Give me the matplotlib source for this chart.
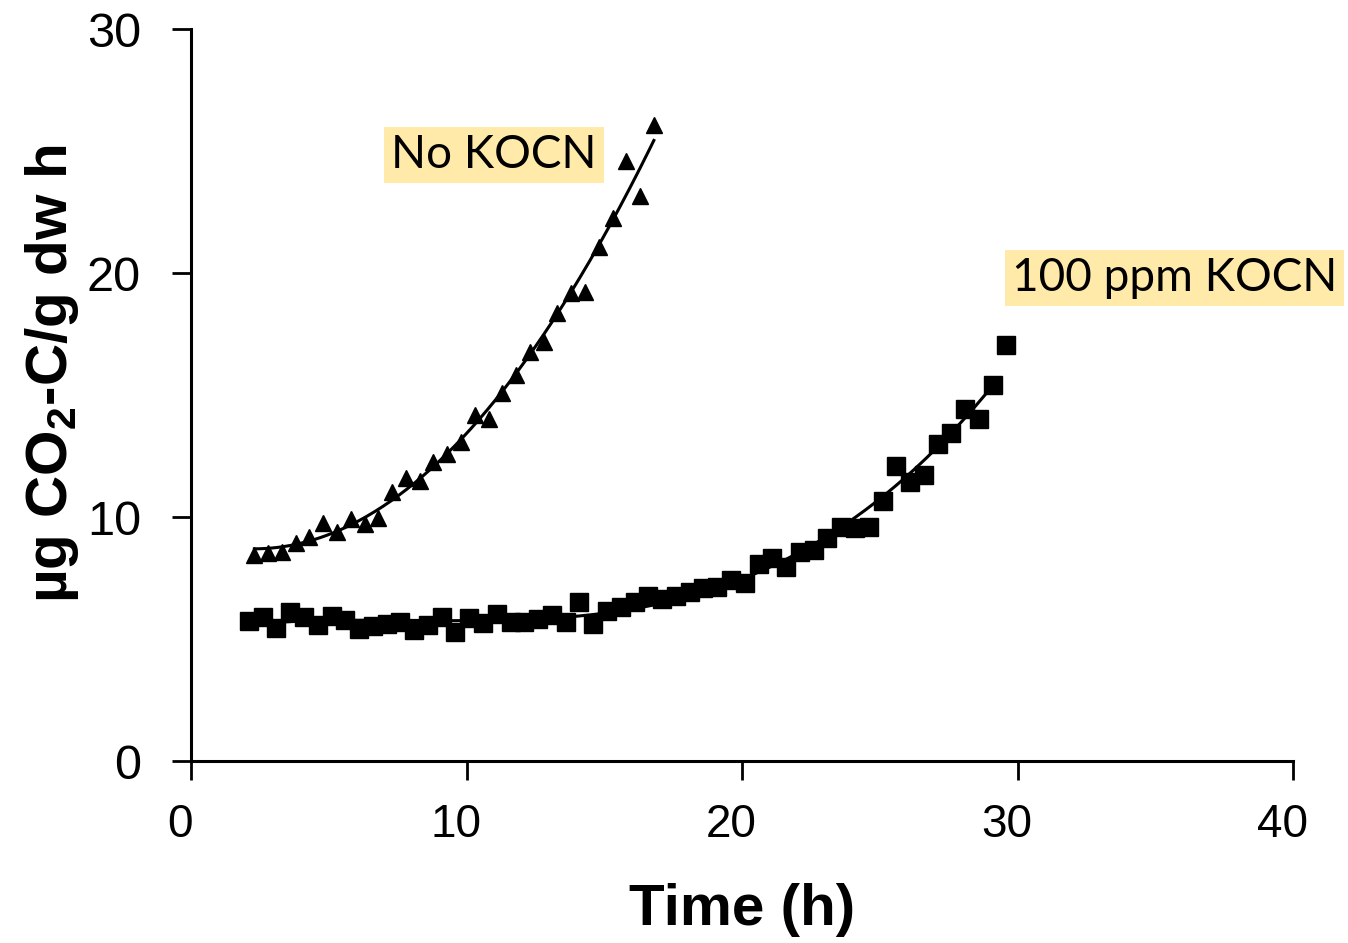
import matplotlib
matplotlib.use("Agg")
import matplotlib.pyplot as plt
import matplotlib.transforms as mtransforms
import numpy as np

plt.rcParams['font.family'] = ['Liberation Sans', 'DejaVu Sans']
plt.rcParams['mathtext.fontset'] = 'custom'
plt.rcParams['mathtext.rm'] = 'Liberation Sans:bold'
plt.rcParams['mathtext.bf'] = 'Liberation Sans:bold'

# time (h) of each reading, half-hour steps
t_no = 2.3 + 0.5 * np.arange(30)
rate_no = np.array([8.44, 8.52, 8.57, 8.93, 9.18, 9.75, 9.39, 9.92, 9.71, 9.96,
                    11.02, 11.6, 11.48, 12.25, 12.58, 13.07, 14.18, 14.02, 15.08, 15.82,
                    16.76, 17.17, 18.36, 19.18, 19.22, 21.07, 22.25, 24.59, 23.16, 26.07])

t_100 = 2.1 + 0.5 * np.arange(56)
rate_100 = np.array([5.74, 5.90, 5.45, 6.11, 5.90, 5.57, 5.94, 5.78, 5.41, 5.53,
                     5.61, 5.70, 5.37, 5.57, 5.90, 5.29, 5.86, 5.66, 6.02, 5.70,
                     5.70, 5.82, 5.98, 5.70, 6.52, 5.61, 6.15, 6.31, 6.52, 6.76,
                     6.64, 6.76, 6.93, 7.09, 7.13, 7.42, 7.30, 8.07, 8.32, 7.95,
                     8.57, 8.65, 9.14, 9.59, 9.55, 9.59, 10.66, 12.09, 11.43, 11.72,
                     12.99, 13.44, 14.43, 14.02, 15.41, 17.05])

fig = plt.figure(figsize=(13.48, 9.43), dpi=100)
ax = fig.add_axes([0.1417, 0.193, 0.8175, 0.7762])

ax.plot(t_no, rate_no, '^', color='black', markersize=12, clip_on=False)
ax.plot(t_100, rate_100, 's', color='black', markersize=12.5, clip_on=False)

# polynomial trend lines over each data range
xs = np.linspace(t_no[0], t_no[-1], 200)
ax.plot(xs, np.polyval(np.polyfit(t_no, rate_no, 2), xs), color='black', lw=2.2)
xs = np.linspace(t_100[0], t_100[-1] - 0.3, 300)
ax.plot(xs, np.polyval(np.polyfit(t_100, rate_100, 3), xs), color='black', lw=2.2)

ax.set_xlim(0, 40)
ax.set_ylim(0, 30)
ax.set_xticks([0, 10, 20, 30, 40])
ax.set_yticks([0, 10, 20, 30])
for s in ['top', 'right']:
    ax.spines[s].set_visible(False)
for s in ['left', 'bottom']:
    ax.spines[s].set_linewidth(2.2)
ax.tick_params(axis='y', direction='out', length=14, width=2, labelsize=35, pad=22)
ax.tick_params(axis='x', direction='out', length=14, width=2, labelsize=33, pad=16)

# x tick labels sit a little left of their ticks
shift = mtransforms.ScaledTranslation(-11 / 100, 0, fig.dpi_scale_trans)
for lab in ax.get_xticklabels():
    lab.set_transform(lab.get_transform() + shift)

ax.set_xlabel('Time (h)', fontsize=42, fontweight='bold', labelpad=26)
ax.set_ylabel(r'µg CO$_\mathbf{2}$-C/g dw h', fontsize=42, fontweight='bold')
ax.yaxis.set_label_coords(-0.1, 0.53)

box = dict(boxstyle='square,pad=0.15', facecolor='#FFEAAA', edgecolor='none')
ax.text(11.0, 24.85, 'No KOCN', fontsize=33, family=['Lato', 'DejaVu Sans'],
        ha='center', va='center', bbox=box, clip_on=False)
ax.text(35.7, 19.8, '100 ppm KOCN', fontsize=33, family=['Lato', 'DejaVu Sans'],
        ha='center', va='center', bbox=box, clip_on=False)

fig.savefig('out.png', dpi=100)
